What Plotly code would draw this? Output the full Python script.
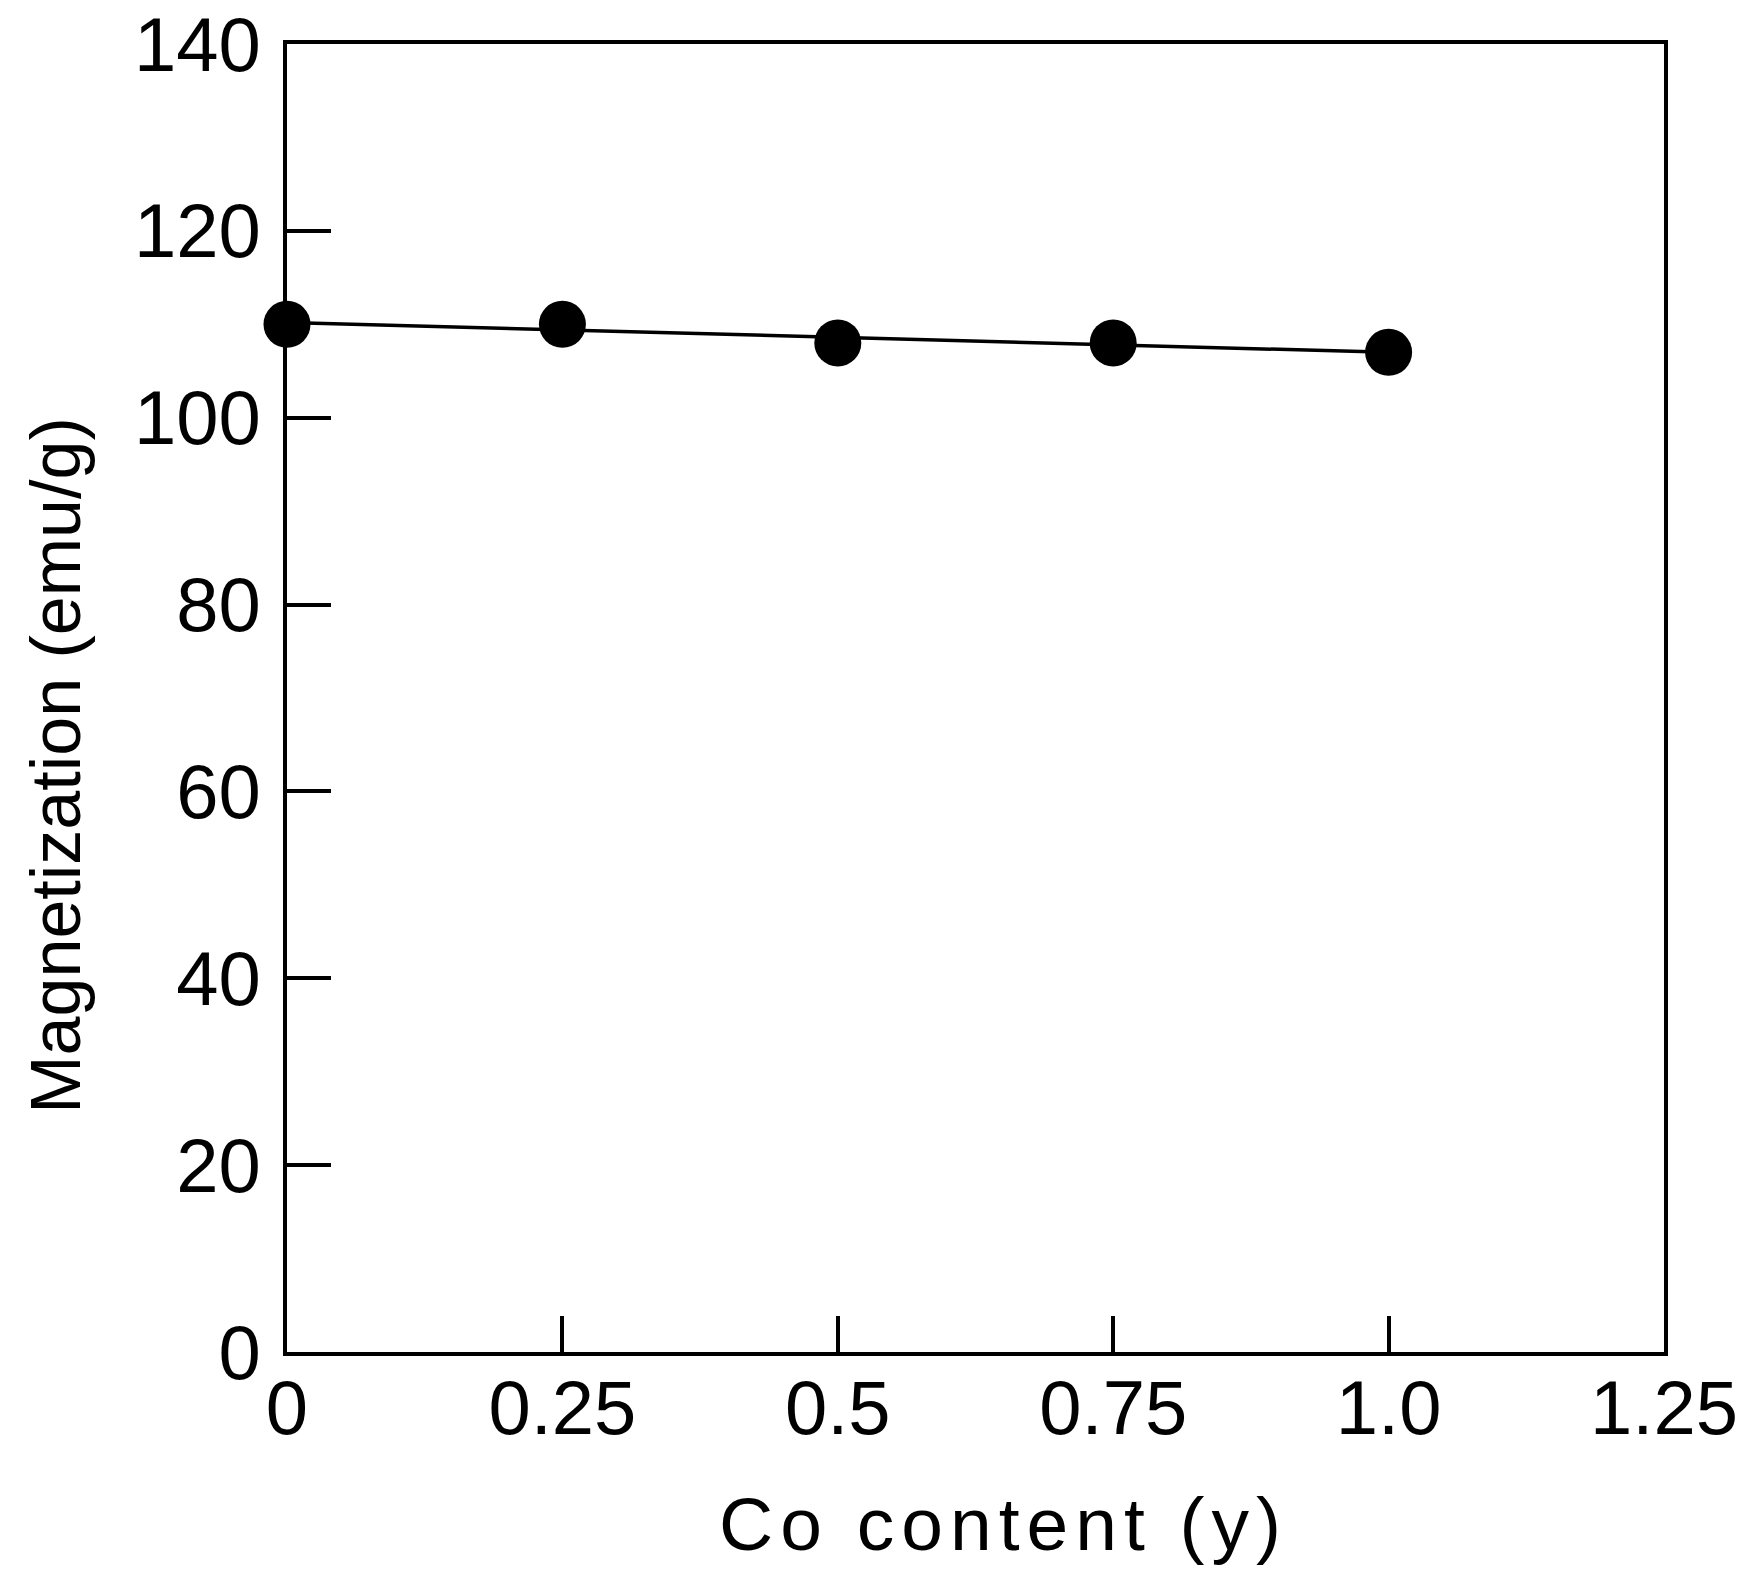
import numpy as np
import plotly.graph_objects as go

# Data
co_content = [0.0, 0.25, 0.5, 0.75, 1.0]
magnetization = [110.0, 110.0, 108.0, 108.0, 107.0]

x_tickvals = [0, 0.25, 0.5, 0.75, 1.0, 1.25]
x_ticktext = ["0", "0.25", "0.5", "0.75", "1.0", "1.25"]
y_tickvals = [0, 20, 40, 60, 80, 100, 120, 140]
y_ticktext = ["0", "20", "40", "60", "80", "100", "120", "140"]

x_title = "Co content (y)"
y_title = "Magnetization (emu/g)"

# Linear fit line drawn over the measured range
coef = np.polyfit(co_content, magnetization, 1)
fit_x = [min(co_content), max(co_content)]
fit_y = list(np.polyval(coef, fit_x))

FONT = "Liberation Sans, Arial, sans-serif"

fig = go.Figure()
fig.add_trace(go.Scatter(
    x=fit_x, y=fit_y, mode="lines",
    line=dict(color="black", width=3.5),
    showlegend=False, hoverinfo="skip", cliponaxis=False,
))
fig.add_trace(go.Scatter(
    x=co_content, y=magnetization, mode="markers",
    marker=dict(symbol="circle", size=47, color="black", line=dict(width=0)),
    showlegend=False, cliponaxis=False,
))

axis_common = dict(
    showgrid=False, zeroline=False, showline=True, linecolor="black",
    linewidth=4, mirror=True, ticks="inside", tickcolor="black",
    tickwidth=4, layer="below traces", ticklabeloverflow="allow",
    automargin=False,
    tickfont=dict(family=FONT, size=76, color="black"),
)

fig.update_xaxes(
    range=[0, 1.25], tickmode="array", tickvals=x_tickvals, ticktext=x_ticktext,
    ticklen=36, ticklabelstandoff=-13, **axis_common,
)
fig.update_yaxes(
    range=[0, 140], tickmode="array", tickvals=y_tickvals, ticktext=y_ticktext,
    ticklen=44, ticklabelstandoff=7, **axis_common,
)

fig.update_layout(
    width=1747, height=1582,
    margin=dict(l=279, r=91, t=36, b=238),
    paper_bgcolor="white", plot_bgcolor="white",
    annotations=[
        dict(text='<span style="letter-spacing:7px">' + x_title + '</span>',
             xref="paper", yref="paper", x=0.520, y=-0.1318,
             xanchor="center", yanchor="middle", showarrow=False,
             font=dict(family=FONT, size=75, color="black")),
        dict(text=y_title, xref="paper", yref="paper", x=-0.1674, y=0.4486,
             xanchor="center", yanchor="middle", showarrow=False, textangle=-90,
             font=dict(family=FONT, size=70, color="black")),
    ],
)

fig.write_html("out.html")
